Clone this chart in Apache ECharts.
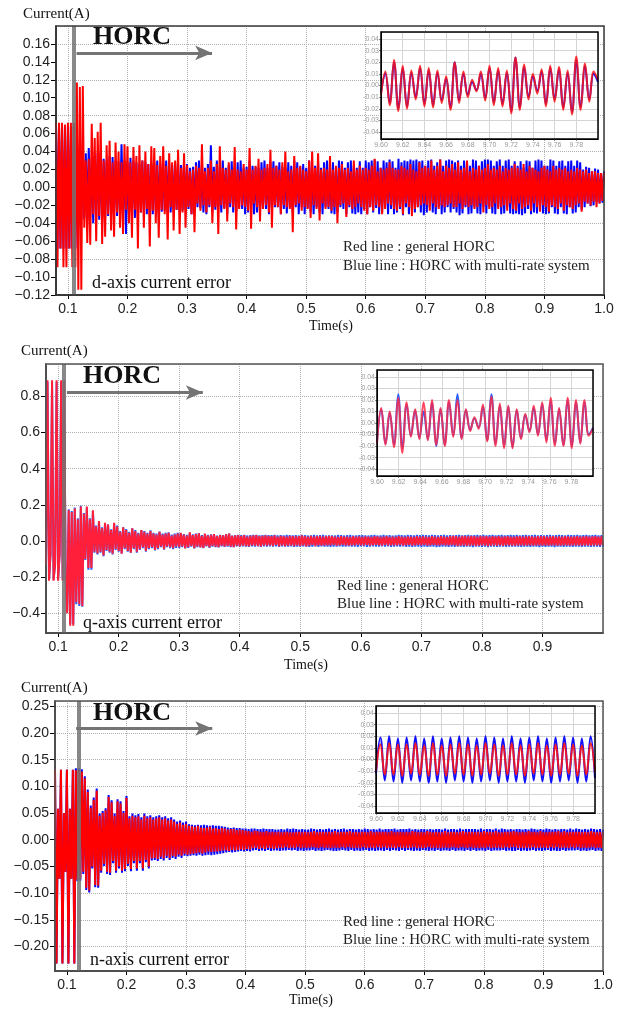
<!DOCTYPE html>
<html>
<head>
<meta charset="utf-8">
<script src="https://cdn.jsdelivr.net/npm/echarts@6/dist/echarts.min.js"></script>
<style>
  html, body { margin: 0; padding: 0; background: #fff; }
  #main { width: 640px; height: 1011px; }
</style>
</head>
<body>
<div id="main"></div>
<script>
// sample grid of the main traces: one value every 2.5 ms, part A from 0.08 s, part B from 0.3025 s
const T_A0 = 0.08, T_B0 = 0.3025, T_STEP = 0.0025;
// inset window (x 1e-1 s)
const INSET_T0 = 9.60, INSET_T1 = 9.80;

// all current values below in mA

// d-axis current error
const dRedA = [72,-89,72,-68,72,-89,70,-89,72,-68,72,-89,72,-89,
  117,-114,112,-114,113,-45,30,-62,32,-64,71,-30,55,-60,62,-32,72,-63,30,-55,
  47,-30,52,-48,28,-55,50,-28,40,-45,28,-52,48,-25,46,-40,28,-56,45,-25,
  35,-68,47,-28,30,-45,40,-24,26,-66,46,-26,44,-40,25,-56,35,-25,46,-30,
  24,-58,38,-22,28,-48,30,-25,42,-52,22,-28,38,-45,25];
const dRedB = [
  -22,18,-30,20,-50,24,-18,22,-26,48,-20,18,-28,22,-20,30,-40,18,-22,26,
  -52,46,-20,22,-24,20,-38,28,-18,20,-22,45,-47,20,-24,18,-20,26,-22,20,
  -26,44,-46,20,-18,24,-22,32,-38,20,-24,22,-20,26,-28,42,-45,22,-20,24,
  -22,20,-30,28,-20,40,-22,18,-24,20,-50,35,-20,22,-18,24,-26,20,-22,18,
  -24,30,-34,40,-20,22,-24,38,-37,20,-18,22,-24,20,-22,35,-26,20,-22,24,
  -40,22,-20,26,-18,20,-33,22,-20,18,-24,30,-22,20,-18,24,-22,20,-26,22,
  -30,20,-22,24,-26,32,-20,18,-22,22,-30,20,-24,22,-18,28,-20,22,-24,20,
  -26,20,-22,24,-30,22,-18,20,-22,26,-32,20,-24,18,-22,28,-20,22,-18,24,
  -20,22,-26,30,-18,20,-22,24,-24,31,-20,18,-22,24,-20,22,-18,26,-22,20,
  -22,28,-18,20,-24,22,-20,30,-22,18,-20,22,-24,20,-22,24,-18,20,-28,22,
  -20,26,-24,20,-22,22,-18,20,-24,24,-22,18,-20,22,-26,20,-18,22,-24,26,
  -26,22,-18,20,-24,26,-22,18,-20,24,-26,22,-18,20,-22,18,-27,22,-20,24,
  -22,20,-27,18,-20,24,-22,20,-24,22,-18,20,-26,22,-20,18,-22,20,-24,18,
  -20,22,-18,20,-27,18,-16,20,-18,16,-20,18,-16,18,-22,16,-18,16,-15,16];
const dBlueA = [68,-68,68,-68,68,-68,68,-68,68,-68,68,-68,68,-68,
  40,-36,35,-36,34,-35,38,-36,44,-34,33,-40,35,-33,38,-36,34,-30,32,-34,
  30,-32,35,-30,34,-28,30,-32,29,-30,48,-28,30,-52,28,-30,33,-28,30,-34,
  28,-30,26,-28,30,-26,28,-30,26,-28,27,-30,28,-26,30,-28,26,-27,28,-26,
  30,-25,26,-28,25,-26,27,-25,26,-27,25,-26,27,-25,26];
const dBlueB = [
  -24,22,-30,23,-25,28,-22,30,-23,25,-28,22,-30,26,-22,47,-28,23,-25,30,
  -22,24,-28,30,-23,22,-30,25,-22,29,-28,22,-26,28,-22,30,-24,22,-30,23,
  -28,30,-22,24,-30,23,-28,22,-26,28,-22,30,-24,22,-30,28,-23,29,-22,24,
  -22,28,-30,23,-24,22,-29,28,-22,24,-28,30,-22,28,-30,23,-22,26,-30,22,
  -23,30,-28,22,-30,24,-22,29,-28,22,-30,28,-22,30,-24,22,-29,28,-30,22,
  -28,30,-22,29,-24,22,-30,28,-22,30,-29,24,-30,22,-28,29,-30,22,-24,30,
  -30,28,-22,30,-28,31,-23,29,-30,22,-28,30,-22,28,-30,31,-24,29,-30,22,
  -28,32,-24,28,-31,30,-22,29,-30,31,-24,30,-28,31,-22,29,-28,30,-31,24,
  -28,30,-22,31,-28,24,-30,28,-22,31,-30,24,-28,30,-22,31,-28,30,-24,28,
  -28,30,-31,24,-29,30,-22,29,-30,24,-29,31,-22,30,-29,24,-30,29,-22,31,
  -29,31,-22,30,-29,24,-30,29,-22,31,-30,24,-29,30,-22,31,-29,24,-30,29,
  -29,24,-30,29,-31,22,-29,30,-24,29,-30,22,-28,30,-29,31,-22,30,-29,24,
  -30,24,-29,31,-22,30,-29,24,-30,29,-22,30,-29,24,-30,29,-22,30,-29,24,
  -28,30,-22,28,-25,20,-22,23,-18,22,-21,18,-20,21,-16,20,-18,16,-17,18];

// q-axis current error
const qRedA = [-130,890,-220,-70,890,-220,-130,890,-220,-70,890,-220,890,-220,
  -400,170,-470,160,-470,180,-340,120,-350,190,-360,150,-100,190,-150,120,-150,170,-60,80,
  -70,110,-60,70,-80,100,-50,90,-60,60,-70,100,-45,80,-55,50,-70,75,-40,60,
  -55,45,-65,70,-40,55,-60,40,-45,60,-35,50,-55,40,-40,55,-35,40,-50,35,
  -40,50,-30,35,-45,40,-30,45,-35,30,-40,35,-30,40,-35];
const qRedB = [
  45,-30,35,-42,30,-35,48,-28,32,-40,38,-30,42,-35,28,-38,40,-28,30,-36,
  34,-28,38,-32,26,-34,32,-26,30,-30,36,-28,40,-32,28,-34,30,-26,32,-30,
  28,-26,32,-28,24,-30,28,-24,30,-26,32,-28,26,-30,28,-24,30,-26,28,-25,
  26,-28,30,-22,24,-30,28,-24,26,-28,24,-26,28,-24,26,-28,25,-24,26,-28,
  30,-24,26,-30,24,-26,28,-22,24,-28,26,-24,28,-26,24,-25,26,-24,28,-25,
  26,-22,24,-26,22,-24,26,-22,24,-25,24,-26,22,-24,26,-25,24,-22,25,-24,
  22,-24,25,-22,24,-26,22,-24,26,-22,25,-24,22,-26,24,-22,26,-24,22,-25,
  24,-25,22,-24,26,-22,24,-26,22,-24,25,-22,24,-26,22,-24,26,-22,24,-25,
  25,-22,24,-26,22,-24,26,-22,24,-25,22,-24,26,-22,24,-25,22,-24,26,-23,
  28,-24,26,-28,24,-26,28,-24,26,-27,25,-26,28,-24,26,-27,24,-26,28,-25,
  25,-24,26,-28,24,-26,27,-24,25,-26,26,-25,24,-27,25,-24,26,-25,24,-26,
  24,-26,25,-24,26,-25,24,-26,25,-24,26,-24,25,-26,24,-25,26,-24,25,-26,
  26,-25,24,-26,25,-24,26,-25,24,-26,25,-26,24,-25,26,-24,25,-26,24,-25,
  25,-24,26,-25,24,-26,25,-24,26,-25,24,-26,25,-24,26,-25,24,-26,25,-24];
const qBlueA = [-130,880,-215,-75,880,-215,-130,880,-215,-75,880,-215,880,-215,
  -390,175,-460,165,-460,185,-350,125,-360,195,-365,155,-105,185,-160,125,-160,165,-65,85,
  -75,105,-65,75,-85,95,-55,90,-65,65,-75,95,-50,85,-60,55,-70,75,-45,65,
  -60,50,-65,70,-45,60,-65,45,-50,60,-40,55,-60,45,-45,58,-40,45,-52,40,
  -45,52,-35,40,-48,45,-35,48,-40,35,-45,40,-38,45,-40];
const qBlueB = [
  42,-35,38,-40,33,-38,45,-32,36,-42,40,-34,44,-36,32,-40,38,-30,34,-38,
  36,-32,38,-34,30,-36,34,-30,32,-33,38,-31,40,-34,30,-35,32,-30,34,-32,
  32,-30,34,-31,30,-33,32,-30,33,-31,34,-30,31,-33,32,-30,33,-31,32,-30,
  32,-31,33,-30,31,-33,32,-30,31,-32,33,-31,32,-30,31,-33,32,-31,30,-32,
  33,-30,32,-31,30,-33,31,-32,33,-30,31,-33,32,-30,33,-31,30,-32,31,-33,
  31,-32,30,-31,33,-30,32,-31,30,-32,32,-30,33,-31,30,-32,31,-33,32,-30,
  32,-30,31,-33,30,-31,32,-30,33,-31,30,-32,31,-30,33,-32,31,-30,32,-33,
  30,-32,31,-30,33,-31,32,-30,31,-33,34,-31,32,-33,31,-32,33,-31,32,-34,
  34,-31,32,-33,31,-32,33,-31,32,-34,31,-33,32,-31,34,-32,31,-33,32,-31,
  31,-33,32,-31,34,-32,31,-33,32,-31,33,-32,31,-34,32,-31,33,-32,31,-33,
  33,-32,31,-34,32,-31,33,-32,31,-33,32,-31,34,-32,31,-33,32,-31,33,-32,
  32,-31,34,-32,31,-33,32,-31,33,-32,31,-33,32,-31,33,-32,31,-34,32,-31,
  31,-33,32,-31,33,-32,31,-34,32,-31,33,-31,32,-33,31,-32,34,-31,32,-33,
  32,-31,33,-32,31,-33,32,-31,34,-32,31,-33,32,-31,33,-32,31,-33,32,-31];

// n-axis current error
const nRedA = [131,-232,58,-73,131,-232,50,-60,131,-232,58,-73,131,-232,
  130,-75,130,-73,128,-60,115,-90,90,-95,60,-50,75,-85,92,-86,45,-58,50,-45,
  55,-60,80,-62,70,-40,45,-58,72,-50,68,-58,50,-55,78,-45,40,-55,45,-40,
  42,-54,44,-40,38,-54,45,-38,40,-50,42,-35,38,-34,40,-36,42,-32,38,-35,
  40,-30,36,-34,38,-30,34,-32,30,-28,32,-30,28,-26,30];
const nRedB = [
  -28,26,-27,25,-26,24,-25,26,-24,23,-26,22,-24,23,-22,24,-23,21,-22,22,
  -22,20,-21,22,-20,21,-20,19,-21,20,-19,20,-20,18,-19,19,-18,18,-19,17,
  -17,16,-18,15,-16,17,-15,16,-17,15,-16,15,-17,16,-15,14,-16,15,-17,14,
  -16,15,-15,14,-16,15,-14,15,-16,14,-15,14,-16,15,-14,15,-16,14,-15,15,
  -16,14,-15,15,-14,16,-15,14,-16,15,-14,15,-16,14,-15,15,-16,14,-15,16,
  -15,14,-16,15,-14,15,-16,15,-14,16,-15,14,-16,15,-15,14,-16,15,-14,15,
  -16,14,-15,16,-15,14,-16,15,-14,15,-16,15,-14,15,-16,14,-15,16,-15,14,
  -16,15,-14,15,-16,14,-15,15,-16,14,-15,16,-14,15,-16,14,-15,15,-16,14,
  -15,16,-14,15,-16,14,-15,15,-16,14,-16,14,-15,16,-15,14,-16,15,-14,15,
  -15,14,-16,15,-14,16,-15,14,-16,15,-14,15,-16,14,-15,15,-16,14,-15,16,
  -16,15,-14,15,-16,14,-15,16,-15,14,-15,14,-16,15,-14,15,-16,15,-14,16,
  -14,15,-16,14,-15,15,-16,14,-15,16,-16,15,-14,15,-16,14,-15,16,-15,14,
  -15,14,-16,15,-14,15,-16,15,-14,16,-16,14,-15,16,-15,14,-16,15,-14,15,
  -16,15,-14,15,-16,14,-15,15,-16,14,-15,16,-14,15,-16,14,-15,15,-16,14];
const nBlueA = [131,-232,58,-73,131,-232,50,-60,131,-232,58,-73,131,-232,
  134,-78,134,-77,132,-64,119,-94,94,-99,64,-54,79,-89,96,-90,49,-62,54,-49,
  59,-64,84,-66,74,-44,49,-62,76,-54,72,-62,54,-59,82,-49,44,-59,49,-44,
  46,-58,48,-44,42,-58,49,-42,44,-54,46,-39,42,-38,44,-40,46,-36,42,-39,
  44,-34,40,-38,42,-34,38,-36,34,-32,36,-34,32,-30,34];
const nBlueB = [
  -31,29,-30,28,-29,27,-30,28,-28,27,-30,28,-29,27,-28,26,-29,27,-28,26,
  -27,26,-26,25,-25,24,-24,23,-23,22,-24,23,-23,22,-22,22,-21,21,-22,21,
  -21,20,-22,21,-20,21,-19,20,-21,20,-20,21,-21,20,-19,20,-21,20,-20,19,
  -20,19,-21,20,-20,19,-20,21,-19,20,-20,21,-19,20,-21,19,-20,20,-21,19,
  -20,19,-20,21,-19,20,-21,19,-20,20,-21,19,-20,20,-19,21,-20,19,-21,20,
  -21,19,-20,20,-19,21,-20,19,-21,20,-19,20,-21,19,-20,20,-21,19,-20,21,
  -19,20,-21,19,-20,20,-21,19,-20,21,-20,19,-21,20,-19,20,-21,20,-19,21,
  -20,19,-21,20,-19,20,-21,20,-19,21,-20,19,-21,20,-20,19,-21,20,-19,20,
  -20,19,-21,20,-20,19,-21,20,-19,20,-21,19,-20,21,-20,19,-21,20,-19,20,
  -21,19,-20,21,-20,19,-21,20,-19,20,-21,20,-19,20,-21,19,-20,21,-20,19,
  -21,20,-19,20,-21,19,-20,21,-20,19,-20,21,-19,20,-21,19,-20,20,-21,19,
  -21,20,-19,20,-21,19,-20,20,-21,19,-20,21,-19,20,-21,19,-20,20,-21,19,
  -20,21,-19,20,-21,19,-20,20,-21,19,-21,20,-19,20,-21,19,-20,21,-20,19,
  -20,21,-19,20,-21,19,-20,20,-21,19,-20,21,-19,20,-21,19,-20,20,-21,19];

// zoomed windows 0.960 .. 0.980 s
const dInsetRed = [-8,12,-17,22,-22,17,-20,13,-12,17,-18,15,-19,13,-15,8,-21,20,-15,12,
  -10,5,-5,12,-13,17,-17,15,-18,13,-24,24,-21,18,-12,10,-7,14,-18,17,
  -14,16,-21,13,-25,25,-21,19,-14,12,5];
const dInsetBlue = [-6,10,-15,20,-20,15,-18,11,-10,15,-16,13,-17,11,-13,6,-19,20,-13,10,
  -8,3,-4,10,-11,15,-15,13,-16,11,-22,24,-19,16,-10,8,-5,12,-16,15,
  -12,14,-19,11,-23,22,-19,17,-12,10,3];
const qInsetRed = [-18,13,-19,10,-21,22,-26,18,-12,12,-14,18,-15,20,-19,13,-20,20,-12,20,
  -14,12,-7,5,-5,16,-16,23,-20,17,-22,15,-22,12,-14,8,-8,15,-11,18,
  -17,22,-20,13,-20,22,-22,20,-18,20,-11,-5];
const qInsetBlue = [-16,12,-18,9,-19,25,-22,16,-11,11,-13,10,-14,18,-20,12,-19,18,-11,25,
  -13,11,-6,4,-4,14,-15,25,-18,15,-20,14,-21,11,-13,7,-7,13,-10,16,
  -15,19,-18,12,-19,20,-20,18,-17,18,-10,-4];
const nInsetRed = [-10,13,-13,14,-13,13,-14,13,-12,14,-13,12,-14,14,-13,12,-14,13,-12,14,
  -13,13,-14,12,-13,14,-12,13,-14,12,-13,14,-13,12,-14,13,-12,14,-13,12,
  -14,13,-13,14,-12,13,-14,12,-13,14,-11];
const nInsetBlue = [-12,19,-18,20,-19,18,-20,19,-18,20,-19,18,-20,20,-19,18,-20,19,-18,20,
  -19,19,-20,18,-19,20,-18,19,-20,18,-19,20,-19,18,-20,19,-18,20,-19,18,
  -20,19,-19,20,-18,19,-20,18,-19,20,-16];

const SERIF = "'Liberation Serif', 'Times New Roman', serif";
const SANS = "'Liberation Sans', Arial, sans-serif";

function mainData(a, b) {
  const out = [];
  a.forEach((v, i) => out.push([T_A0 + i * T_STEP, v / 1000]));
  b.forEach((v, i) => out.push([T_B0 + i * T_STEP, v / 1000]));
  return out;
}
function insetData(vals) {
  const step = (INSET_T1 - INSET_T0) / (vals.length - 1);
  return vals.map((v, i) => [INSET_T0 + i * step, v / 1000]);
}
// label only on multiples of step, with a real minus sign
function fmt(dec, step, minus) {
  return function (v) {
    const q = v / step;
    if (Math.abs(q - Math.round(q)) > 1e-6) return '';
    if (Math.abs(v) < 1e-9) v = 0;
    const s = v.toFixed(dec);
    return minus ? s.replace('-', '\u2212') : s;
  };
}

// layout
const mainGrids = [
  { left: 56, top: 26, width: 548, height: 269 },
  { left: 46, top: 364, width: 557, height: 269 },
  { left: 55, top: 701, width: 548, height: 270 }
];
const insetGrids = [
  { left: 381, top: 32, width: 217, height: 107 },
  { left: 377, top: 370, width: 216, height: 106 },
  { left: 376, top: 706, width: 219, height: 107 }
];

const tickFont = { fontFamily: SANS, fontSize: 14, color: '#222' };
const dotted = { show: true, lineStyle: { color: '#b0b0b0', type: 'dotted', width: 1 } };

function mainX(gi, showMax) {
  return {
    type: 'value', gridIndex: gi, min: 0.08, max: 1.0, splitNumber: 9,
    axisLine: { show: true, onZero: false, lineStyle: { color: '#000', width: 1.5 } },
    axisTick: { show: true, length: 4, lineStyle: { color: '#000' } },
    axisLabel: Object.assign({ margin: 7, showMinLabel: false, showMaxLabel: showMax, formatter: fmt(1, 0.1, true) }, tickFont),
    splitLine: dotted
  };
}
function mainY(gi, cfg) {
  return Object.assign({
    type: 'value', gridIndex: gi,
    axisLine: { show: true, onZero: false, lineStyle: { color: '#000', width: 1.5 } },
    axisTick: { show: true, length: 5, lineStyle: { color: '#000' } },
    splitLine: dotted
  }, cfg);
}
function insetX(gi) {
  return {
    type: 'value', gridIndex: gi, min: INSET_T0, max: INSET_T1, interval: 0.02, z: 6,
    axisLine: { show: true, onZero: false, lineStyle: { color: '#000', width: 1 } },
    axisTick: { show: true, length: 2, lineStyle: { color: '#888' } },
    axisLabel: {
      fontFamily: SANS, fontSize: 7, color: '#999', margin: 3, alignMaxLabel: 'right',
      formatter: function (v) { return v > 9.79 ? '\u00d7 1e-1' : v.toFixed(2); }
    },
    splitLine: { show: true, lineStyle: { color: '#d4d4d4', width: 1 } }
  };
}
function insetY(gi) {
  return {
    type: 'value', gridIndex: gi, min: -0.046, max: 0.046, splitNumber: 9, z: 6,
    axisLine: { show: true, onZero: false, lineStyle: { color: '#000', width: 1 } },
    axisTick: { show: true, length: 2, lineStyle: { color: '#888' } },
    axisLabel: { fontFamily: SANS, fontSize: 7, color: '#999', margin: 2, showMinLabel: false, showMaxLabel: false, formatter: fmt(2, 0.01, false) },
    splitLine: { show: true, lineStyle: { color: '#d4d4d4', width: 1 } }
  };
}

function trace(xi, yi, data, color, width, z) {
  return {
    type: 'line', xAxisIndex: xi, yAxisIndex: yi, data: data, z: z,
    showSymbol: false, symbol: 'none', silent: true, animation: false,
    lineStyle: { color: color, width: width }
  };
}
function insetTrace(xi, yi, data, color, z) {
  return {
    type: 'line', xAxisIndex: xi, yAxisIndex: yi, data: data, z: z, smooth: 0.4,
    showSymbol: false, symbol: 'none', silent: true, animation: false,
    lineStyle: { color: color, width: 2 }
  };
}
// HORC start line and arrow
function horcMarks(xi, yi, tStart, yArrow, tTip) {
  return {
    type: 'line', xAxisIndex: xi, yAxisIndex: yi, data: [], z: 8, silent: true, animation: false,
    markLine: {
      silent: true, animation: false, symbol: 'none', label: { show: false },
      data: [
        { xAxis: tStart, lineStyle: { color: 'rgba(115,115,115,0.85)', width: 4, type: 'solid' } },
        [
          { coord: [tStart, yArrow], symbol: 'none', lineStyle: { color: '#747474', width: 3, type: 'solid' } },
          { coord: [tTip, yArrow], symbol: 'arrow', symbolSize: [11, 17], lineStyle: { color: '#747474', width: 3, type: 'solid' } }
        ]
      ]
    }
  };
}

function txt(x, y, text, font, align, color) {
  return {
    type: 'text', x: x, y: y, z: 200, silent: true,
    style: { text: text, font: font, fill: color || '#111', align: align || 'left', verticalAlign: 'middle', textAlign: align || 'left', textVerticalAlign: 'middle' }
  };
}
function frame(g, color, w) {
  return {
    type: 'rect', z: 150, silent: true,
    shape: { x: g.left, y: g.top, width: g.width, height: g.height },
    style: { fill: 'none', stroke: color, lineWidth: w }
  };
}

const graphics = [
  frame(mainGrids[0], '#3a3a3a', 1.5), frame(mainGrids[1], '#555', 1.5), frame(mainGrids[2], '#555', 1.5),
  frame(insetGrids[0], '#000', 1.5), frame(insetGrids[1], '#000', 1.5), frame(insetGrids[2], '#000', 1.5),

  txt(23, 14, 'Current(A)', '15px ' + SERIF),
  txt(93, 37, 'HORC', 'bold 26px ' + SERIF),
  txt(92, 283, 'd-axis current error', '18px ' + SERIF),
  txt(343, 247, 'Red line : general HORC', '15px ' + SERIF, 'left', '#222'),
  txt(343, 266, 'Blue line : HORC with multi-rate system', '15px ' + SERIF, 'left', '#222'),
  txt(331, 326, 'Time(s)', '14px ' + SERIF, 'center'),

  txt(21, 351, 'Current(A)', '15px ' + SERIF),
  txt(83, 376, 'HORC', 'bold 26px ' + SERIF),
  txt(83, 623, 'q-axis current error', '18px ' + SERIF),
  txt(337, 586, 'Red line : general HORC', '15px ' + SERIF, 'left', '#222'),
  txt(337, 604, 'Blue line : HORC with multi-rate system', '15px ' + SERIF, 'left', '#222'),
  txt(306, 665, 'Time(s)', '14px ' + SERIF, 'center'),

  txt(21, 688, 'Current(A)', '15px ' + SERIF),
  txt(93, 713, 'HORC', 'bold 26px ' + SERIF),
  txt(90, 960, 'n-axis current error', '18px ' + SERIF),
  txt(343, 922, 'Red line : general HORC', '15px ' + SERIF, 'left', '#222'),
  txt(343, 940, 'Blue line : HORC with multi-rate system', '15px ' + SERIF, 'left', '#222'),
  txt(311, 1000, 'Time(s)', '14px ' + SERIF, 'center')
];

const option = {
  animation: false,
  backgroundColor: '#fff',
  grid: mainGrids.map(g => Object.assign({ show: false }, g))
    .concat(insetGrids.map(g => Object.assign({ show: true, backgroundColor: '#fff', borderWidth: 0, z: 5 }, g))),
  xAxis: [mainX(0, true), mainX(1, false), mainX(2, true), insetX(3), insetX(4), insetX(5)],
  yAxis: [
    mainY(0, { min: -0.12, max: 0.18, interval: 0.02, splitLine: { show: false },
      axisLabel: Object.assign({ margin: 6, showMaxLabel: false, formatter: fmt(2, 0.02, true) }, tickFont) }),
    // grid lines of panel 1 every 0.04
    { type: 'value', gridIndex: 0, min: -0.12, max: 0.18, interval: 0.04, position: 'left',
      axisLine: { show: false }, axisTick: { show: false }, axisLabel: { show: false }, splitLine: dotted },
    mainY(1, { min: -0.51, max: 0.98, splitNumber: 7,
      axisLabel: Object.assign({ margin: 6, showMinLabel: false, showMaxLabel: false, formatter: fmt(1, 0.2, true) }, tickFont) }),
    mainY(2, { min: -0.246, max: 0.26, splitNumber: 10,
      axisLabel: Object.assign({ margin: 6, showMinLabel: false, showMaxLabel: false, formatter: fmt(2, 0.05, true) }, tickFont) }),
    insetY(3), insetY(4), insetY(5)
  ],
  series: [
    trace(0, 0, mainData(dBlueA, dBlueB), '#0000ff', 2, 2),
    trace(0, 0, mainData(dRedA, dRedB), '#ff0000', 2, 3),
    horcMarks(0, 0, 0.1145, 0.150, 0.342),

    trace(1, 2, mainData(qBlueA, qBlueB), '#1f5cff', 2, 2),
    trace(1, 2, mainData(qRedA, qRedB), '#ff1f3a', 2, 3),
    horcMarks(1, 2, 0.1145, 0.822, 0.339),

    trace(2, 3, mainData(nBlueA, nBlueB), '#0000ff', 2, 2),
    trace(2, 3, mainData(nRedA, nRedB), '#ff0000', 2, 3),
    horcMarks(2, 3, 0.1155, 0.2085, 0.344),

    insetTrace(3, 4, insetData(dInsetBlue), '#1010ff', 7),
    insetTrace(3, 4, insetData(dInsetRed), 'rgba(255,20,20,0.85)', 8),
    insetTrace(4, 5, insetData(qInsetBlue), '#2a64ff', 7),
    insetTrace(4, 5, insetData(qInsetRed), 'rgba(255,40,70,0.85)', 8),
    insetTrace(5, 6, insetData(nInsetBlue), '#1010ff', 7),
    insetTrace(5, 6, insetData(nInsetRed), 'rgba(255,20,20,0.9)', 8)
  ],
  graphic: { elements: graphics }
};

const chart = echarts.init(document.getElementById('main'));
chart.setOption(option);
</script>
</body>
</html>
